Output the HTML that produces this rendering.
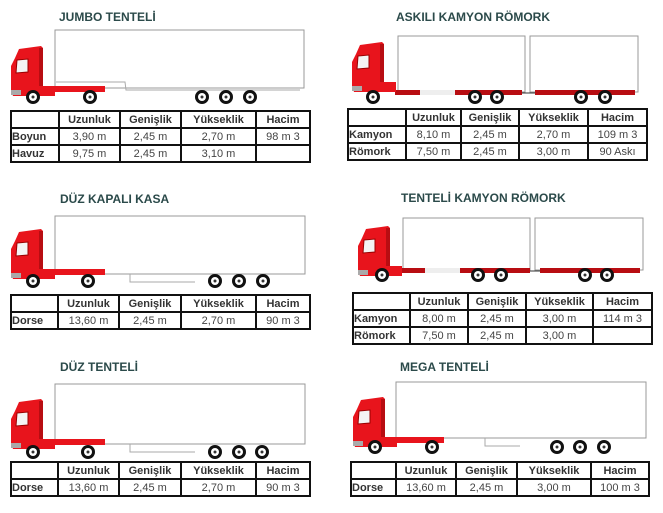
<!DOCTYPE html>
<html><head><meta charset="utf-8"><style>
body{margin:0;width:663px;height:513px;background:#fff;position:relative;overflow:hidden;font-family:"Liberation Sans",Arial,sans-serif}
.t{position:absolute;font-weight:bold;font-size:12px;color:#2b4a4a;white-space:nowrap}
table{position:absolute;border-collapse:collapse;font-size:11px;table-layout:fixed}
td{border:2px solid #111;padding:0;text-align:center;color:#444;height:15px;line-height:14px}
tr:first-child td{font-weight:bold;color:#333}
td:first-child{text-align:left;font-weight:bold;color:#333}
svg{position:absolute;left:0;top:0}
</style></head><body>
<svg width="663" height="513">
<defs>
<g id="cab">
<path d="M4 12 L8 3 L30 0 L32 2 L32 40 L44 40 L44 50 L2 50 L0 44 L0 20 Z" fill="#e8141c"/>
<path d="M28 2 L32 2 L32 40 L28 40Z" fill="#b80d12"/>
<path d="M6 14 L17 13 L17 26 L5 27Z" fill="#f4f4f4" stroke="#900" stroke-width="1"/>
<rect x="0" y="44" width="10" height="5" fill="#aaa"/>
</g>
<g id="w"><circle r="7" fill="#111"/><circle r="4" fill="#fff"/><circle r="1.5" fill="#333"/></g>
</defs>
<!-- P1 -->
<rect x="55" y="30" width="249" height="58" fill="#fff" stroke="#999"/>
<path d="M56 82 L125 82 L126 90 L300 90" fill="none" stroke="#aaa"/>
<use href="#cab" x="11" y="46"/>
<rect x="50" y="86" width="55" height="6" fill="#e8141c"/>
<use href="#w" x="33" y="97"/><use href="#w" x="90" y="97"/>
<use href="#w" x="202" y="97"/><use href="#w" x="226" y="97"/><use href="#w" x="250" y="97"/>
<!-- P2 -->
<rect x="398" y="36" width="127" height="56" fill="#fff" stroke="#999"/>
<rect x="530" y="36" width="108" height="56" fill="#fff" stroke="#999"/>
<rect x="395" y="90" width="127" height="5" fill="#b80d12"/>
<rect x="420" y="90" width="35" height="5" fill="#eee"/>
<rect x="535" y="90" width="100" height="5" fill="#b80d12"/>
<line x1="522" y1="93" x2="535" y2="93" stroke="#333"/>
<use href="#cab" x="352" y="42"/>
<use href="#w" x="373" y="97"/><use href="#w" x="475" y="97"/><use href="#w" x="497" y="97"/><use href="#w" x="581" y="97"/><use href="#w" x="605" y="97"/>
<!-- P3 -->
<rect x="55" y="216" width="250" height="58" fill="#fff" stroke="#999"/>
<path d="M130 274 L130 282 L195 282" fill="none" stroke="#aaa"/>
<use href="#cab" x="11" y="229"/>
<rect x="50" y="269" width="55" height="6" fill="#e8141c"/>
<use href="#w" x="33" y="281"/><use href="#w" x="88" y="281"/>
<use href="#w" x="215" y="281"/><use href="#w" x="239" y="281"/><use href="#w" x="263" y="281"/>
<!-- P4 -->
<rect x="403" y="218" width="127" height="52" fill="#fff" stroke="#999"/>
<rect x="535" y="218" width="108" height="52" fill="#fff" stroke="#999"/>
<rect x="400" y="268" width="130" height="5" fill="#b80d12"/>
<rect x="425" y="268" width="35" height="5" fill="#eee"/>
<rect x="540" y="268" width="100" height="5" fill="#b80d12"/>
<line x1="530" y1="271" x2="540" y2="271" stroke="#333"/>
<use href="#cab" x="358" y="226"/>
<use href="#w" x="382" y="275"/><use href="#w" x="478" y="275"/><use href="#w" x="501" y="275"/><use href="#w" x="585" y="275"/><use href="#w" x="607" y="275"/>
<!-- P5 -->
<rect x="55" y="384" width="250" height="60" fill="#fff" stroke="#999"/>
<path d="M130 444 L130 452 L195 452" fill="none" stroke="#aaa"/>
<use href="#cab" x="11" y="399"/>
<rect x="50" y="439" width="55" height="6" fill="#e8141c"/>
<use href="#w" x="33" y="452"/><use href="#w" x="88" y="452"/>
<use href="#w" x="215" y="452"/><use href="#w" x="239" y="452"/><use href="#w" x="262" y="452"/>
<!-- P6 -->
<rect x="396" y="382" width="250" height="56" fill="#fff" stroke="#999"/>
<path d="M485 438 L485 446 L520 446" fill="none" stroke="#aaa"/>
<use href="#cab" x="353" y="397"/>
<rect x="392" y="437" width="52" height="6" fill="#e8141c"/>
<use href="#w" x="375" y="447"/><use href="#w" x="432" y="447"/>
<use href="#w" x="557" y="447"/><use href="#w" x="580" y="447"/><use href="#w" x="604" y="447"/>
</svg>

<div class="t" style="left:59px;top:10px">JUMBO TENTELİ</div>
<div class="t" style="left:396px;top:10px">ASKILI KAMYON RÖMORK</div>
<div class="t" style="left:60px;top:192px">DÜZ KAPALI KASA</div>
<div class="t" style="left:401px;top:191px">TENTELİ KAMYON RÖMORK</div>
<div class="t" style="left:60px;top:360px">DÜZ TENTELİ</div>
<div class="t" style="left:400px;top:360px">MEGA TENTELİ</div>

<table style="left:10px;top:110px;width:299px">
<colgroup><col style="width:48px"><col style="width:61px"><col style="width:61px"><col style="width:75px"><col style="width:54px"></colgroup>
<tr><td></td><td>Uzunluk</td><td>Genişlik</td><td>Yükseklik</td><td>Hacim</td></tr>
<tr><td>Boyun</td><td>3,90 m</td><td>2,45 m</td><td>2,70 m</td><td>98 m 3</td></tr>
<tr><td>Havuz</td><td>9,75 m</td><td>2,45 m</td><td>3,10 m</td><td></td></tr>
</table>
<table style="left:347px;top:108px;width:299px">
<colgroup><col style="width:58px"><col style="width:55px"><col style="width:58px"><col style="width:69px"><col style="width:59px"></colgroup>
<tr><td></td><td>Uzunluk</td><td>Genişlik</td><td>Yükseklik</td><td>Hacim</td></tr>
<tr><td>Kamyon</td><td>8,10 m</td><td>2,45 m</td><td>2,70 m</td><td>109 m 3</td></tr>
<tr><td>Römork</td><td>7,50 m</td><td>2,45 m</td><td>3,00 m</td><td>90 Askı</td></tr>
</table>
<table style="left:10px;top:294px;width:299px">
<colgroup><col style="width:47px"><col style="width:61px"><col style="width:62px"><col style="width:75px"><col style="width:54px"></colgroup>
<tr><td></td><td>Uzunluk</td><td>Genişlik</td><td>Yükseklik</td><td>Hacim</td></tr>
<tr><td>Dorse</td><td>13,60 m</td><td>2,45 m</td><td>2,70 m</td><td>90 m 3</td></tr>
</table>
<table style="left:352px;top:292px;width:299px">
<colgroup><col style="width:57px"><col style="width:58px"><col style="width:58px"><col style="width:67px"><col style="width:59px"></colgroup>
<tr><td></td><td>Uzunluk</td><td>Genişlik</td><td>Yükseklik</td><td>Hacim</td></tr>
<tr><td>Kamyon</td><td>8,00 m</td><td>2,45 m</td><td>3,00 m</td><td>114 m 3</td></tr>
<tr><td>Römork</td><td>7,50 m</td><td>2,45 m</td><td>3,00 m</td><td></td></tr>
</table>
<table style="left:10px;top:461px;width:299px">
<colgroup><col style="width:47px"><col style="width:61px"><col style="width:62px"><col style="width:75px"><col style="width:54px"></colgroup>
<tr><td></td><td>Uzunluk</td><td>Genişlik</td><td>Yükseklik</td><td>Hacim</td></tr>
<tr><td>Dorse</td><td>13,60 m</td><td>2,45 m</td><td>2,70 m</td><td>90 m 3</td></tr>
</table>
<table style="left:350px;top:461px;width:298px">
<colgroup><col style="width:45px"><col style="width:60px"><col style="width:61px"><col style="width:74px"><col style="width:58px"></colgroup>
<tr><td></td><td>Uzunluk</td><td>Genişlik</td><td>Yükseklik</td><td>Hacim</td></tr>
<tr><td>Dorse</td><td>13,60 m</td><td>2,45 m</td><td>3,00 m</td><td>100 m 3</td></tr>
</table>
</body></html>
